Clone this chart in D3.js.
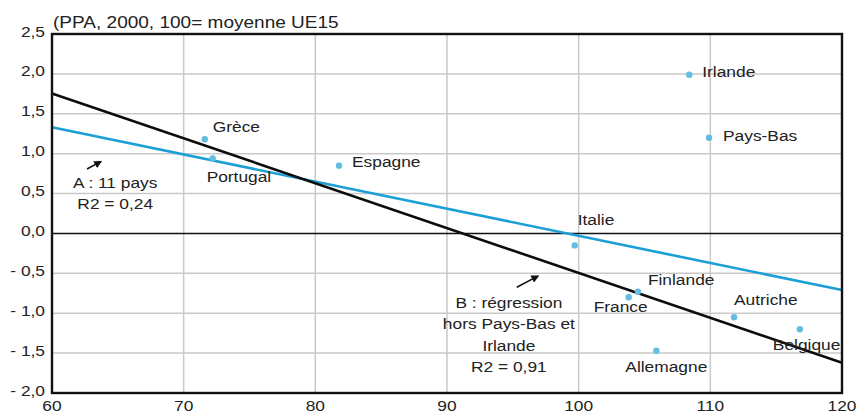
<!DOCTYPE html>
<html>
<head>
<meta charset="utf-8">
<script src="https://cdn.jsdelivr.net/npm/d3@7"></script>
<style>
  html, body { margin: 0; padding: 0; background: #fff; }
  svg { display: block; }
  text { font-family: "Liberation Sans", Arial, sans-serif; fill: #222; }
</style>
</head>
<body>
<svg id="chart" width="856" height="414"></svg>
<script>
// Countries: GDP per head (PPP, 2000, EU15 = 100) vs. vertical axis value
const countries = ["Grèce", "Portugal", "Espagne", "Italie", "Irlande", "Pays-Bas",
                   "Finlande", "France", "Autriche", "Belgique", "Allemagne"];
const xValues = [71.6, 72.2, 81.8, 99.7, 108.4, 109.9, 104.5, 103.8, 111.8, 116.8, 105.9];
const yValues = [1.18, 0.94, 0.85, -0.15, 1.99, 1.20, -0.73, -0.80, -1.05, -1.20, -1.47];

// Regression lines, end points at x = 60 and x = 120
const regA = [[60, 1.33], [120, -0.71]];   // A : 11 pays
const regB = [[60, 1.755], [120, -1.62]];  // B : hors Pays-Bas et Irlande

// Axis ticks
const xTicks = [60, 70, 80, 90, 100, 110, 120];
const yTicks = [-2.0, -1.5, -1.0, -0.5, 0.0, 0.5, 1.0, 1.5, 2.0, 2.5];
const yTickLabels = ["- 2,0", "- 1,5", "- 1,0", "- 0,5", "0,0", "0,5", "1,0", "1,5", "2,0", "2,5"];

const title = "(PPA, 2000, 100= moyenne UE15";
const noteA = ["A : 11 pays", "R2 = 0,24"];
const noteB = ["B : régression", "hors Pays-Bas et", "Irlande", "R2 = 0,91"];

// Label placement (pixel offsets from each point to the label's start / baseline)
const labelOffsets = {
  "Grèce": [8, -7], "Portugal": [-6, 24], "Espagne": [13, 1], "Italie": [3, -20],
  "Irlande": [13, 2], "Pays-Bas": [14, 3], "Finlande": [10, -7], "France": [-35, 15],
  "Autriche": [0, -12], "Belgique": [-27, 21], "Allemagne": [-31, 21]
};

const W = 856, H = 414;
const plot = { left: 52, right: 842, top: 34, bottom: 393 };
const SX = 1.12;          // horizontal text stretch
const FS = 15.5;

const svg = d3.select("#chart");
const x = d3.scaleLinear().domain([60, 120]).range([plot.left, plot.right]);
const y = d3.scaleLinear().domain([-2, 2.5]).range([plot.bottom, plot.top]);

function stretchedText(parent, px, py, str, anchor, size) {
  const g = parent.append("g").attr("transform", `translate(${px},${py}) scale(${SX},1)`);
  return g.append("text")
    .attr("text-anchor", anchor || "start")
    .attr("font-size", size || FS)
    .text(str);
}

// Grid
const grid = svg.append("g");
grid.selectAll("line.gx").data(xTicks.filter(d => d > 60 && d < 120)).join("line")
  .attr("x1", d => x(d)).attr("x2", d => x(d))
  .attr("y1", plot.top).attr("y2", plot.bottom)
  .attr("stroke", "#c9c9c9").attr("stroke-width", 1.5);
grid.selectAll("line.gy").data(yTicks.filter(d => d > -2 && d < 2.5 && d !== 0)).join("line")
  .attr("x1", plot.left).attr("x2", plot.right)
  .attr("y1", d => y(d)).attr("y2", d => y(d))
  .attr("stroke", "#c9c9c9").attr("stroke-width", 1.5);

// Zero line
svg.append("line")
  .attr("x1", plot.left).attr("x2", plot.right)
  .attr("y1", y(0)).attr("y2", y(0))
  .attr("stroke", "#111").attr("stroke-width", 1.6);

// Regression lines
const line = d3.line().x(d => x(d[0])).y(d => y(d[1]));
svg.append("path").datum(regA).attr("d", line)
  .attr("fill", "none").attr("stroke", "#1b9fd6").attr("stroke-width", 2.6);
svg.append("path").datum(regB).attr("d", line)
  .attr("fill", "none").attr("stroke", "#0d0d0d").attr("stroke-width", 2.6);

// Frame
svg.append("rect")
  .attr("x", plot.left).attr("y", plot.top)
  .attr("width", plot.right - plot.left).attr("height", plot.bottom - plot.top)
  .attr("fill", "none").attr("stroke", "#111").attr("stroke-width", 2.4);

// Points
const pts = countries.map((c, i) => ({ name: c, x: xValues[i], y: yValues[i] }));
svg.append("g").selectAll("circle").data(pts).join("circle")
  .attr("cx", d => x(d.x)).attr("cy", d => y(d.y)).attr("r", 3.2)
  .attr("fill", "#63bde0");

// Point labels
const labels = svg.append("g");
pts.forEach(d => {
  const o = labelOffsets[d.name];
  stretchedText(labels, x(d.x) + o[0], y(d.y) + o[1], d.name, "start");
});

// Axis tick labels
const axes = svg.append("g");
yTicks.forEach((t, i) => stretchedText(axes, 45, y(t) + 2.5, yTickLabels[i], "end"));
xTicks.forEach(t => stretchedText(axes, x(t), 410.5, String(t), "middle"));

// Title
stretchedText(svg, 53, 28, title, "start", 17);

// Annotations
const defs = svg.append("defs");
defs.append("marker").attr("id", "arrow")
  .attr("viewBox", "0 0 10 10").attr("refX", 8).attr("refY", 5)
  .attr("markerWidth", 5).attr("markerHeight", 5).attr("orient", "auto")
  .append("path").attr("d", "M0,0 L10,5 L0,10 Z").attr("fill", "#111");

const notes = svg.append("g");
noteA.forEach((s, i) => stretchedText(notes, x(64.8), y(0.575) + i * 21.5, s, "middle"));
noteB.forEach((s, i) => stretchedText(notes, x(94.7), y(-0.93) + i * 21.5, s, "middle"));

const arrows = [[[62.66, 0.807], [63.7, 0.9]], [[95.3, -0.674], [96.9, -0.535]]];
notes.selectAll("path.arr").data(arrows).join("path")
  .attr("d", line).attr("stroke", "#111").attr("stroke-width", 1.6)
  .attr("fill", "none").attr("marker-end", "url(#arrow)");
</script>
</body>
</html>
